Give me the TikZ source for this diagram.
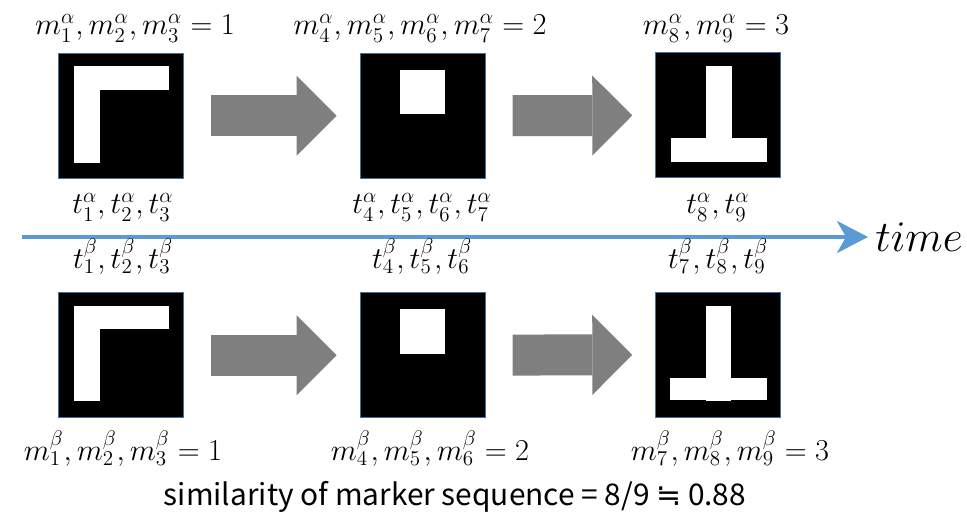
\documentclass[tikz,border=0pt]{standalone}
\usepackage{fontspec}
\usepackage{tikz}
\usetikzlibrary{arrows.meta,calc}
\newfontfamily\jpfont{Noto Sans CJK JP}
\newfontfamily\symfont{DejaVu Sans}
\definecolor{markerline}{RGB}{65,113,156}
\definecolor{stepgray}{RGB}{127,127,127}
\definecolor{timeblue}{RGB}{91,155,213}

\begin{document}
\begin{tikzpicture}[x=0.02cm, y=-0.02cm,
    marker/.style={rectangle, draw=markerline, line width=0.6pt, fill=black,
        minimum size=2.5cm, inner sep=0pt},
    lbl/.style={anchor=base, inner sep=0pt, font=\fontsize{18.5}{20}\selectfont},
    steparr/.style={-{Triangle[length=0.8cm, width=1.6cm, line width=0pt]},
        line width=0.82cm, stepgray, shorten <=0.54cm, shorten >=0.46cm},
    timearr/.style={-{Stealth[length=0.62cm, width=0.64cm, inset=0.18cm]},
        line width=0.08cm, timeblue}
]
    \useasboundingbox (0,0) rectangle (967,517);

    % sequence alpha (top row)
    \node[marker] (a1) at (121.2,115.8) {};
    \node[marker] (a2) at (422.6,115.8) {};
    \node[marker] (a3) at (718.3,115.3) {};
    \fill[white] ($(a1.north west)+(16,13.5)$) rectangle ++(25.7,96.5);
    \fill[white] ($(a1.north west)+(16,13.5)$) rectangle ++(95,24);
    \fill[white] ($(a2.north west)+(40,17.5)$) rectangle ++(45.7,44);
    \fill[white] ($(a3.north west)+(50.4,14)$) rectangle ++(26,72);
    \fill[white] ($(a3.north west)+(15.4,85.7)$) rectangle ++(96,23.7);
    \draw[steparr] (a1) -- (a2);
    \draw[steparr] (a2) -- (a3);

    \node[lbl] (ma1) at (135,35) {$m_1^\alpha, m_2^\alpha, m_3^\alpha = 1$};
    \node[lbl] (ma2) at (420,35) {$m_4^\alpha, m_5^\alpha, m_6^\alpha, m_7^\alpha = 2$};
    \node[lbl] (ma3) at (716,35) {$m_8^\alpha, m_9^\alpha = 3$};
    \node[lbl] (ta1) at (123,214) {$t_1^\alpha, t_2^\alpha, t_3^\alpha$};
    \node[lbl] (ta2) at (422,214) {$t_4^\alpha, t_5^\alpha, t_6^\alpha, t_7^\alpha$};
    \node[lbl] (ta3) at (718,214) {$t_8^\alpha, t_9^\alpha$};

    % time axis
    \coordinate (t0) at (22,237);
    \node[anchor=west, inner xsep=0.14cm, inner ysep=0pt,
        font=\fontsize{25}{28}\selectfont] (time) at (868,237) {$time$};
    \draw[timearr] (t0) -- (time.west);

    % sequence beta (bottom row)
    \node[marker] (b1) at (121.2,355.2) {};
    \node[marker] (b2) at (422.6,355.2) {};
    \node[marker] (b3) at (718.3,354.7) {};
    \fill[white] ($(b1.north west)+(16,14)$) rectangle ++(25.7,95);
    \fill[white] ($(b1.north west)+(16,14)$) rectangle ++(95,22.6);
    \fill[white] ($(b2.north west)+(40,17.3)$) rectangle ++(45.7,44.3);
    \fill[white] ($(b3.north west)+(50.4,14.3)$) rectangle ++(25.3,95);
    \fill[white] ($(b3.north west)+(14.7,86)$) rectangle ++(96.7,22.3);
    \draw[steparr] (b1) -- (b2);
    \draw[steparr] (b2) -- (b3);

    \node[lbl] (tb1) at (123,268) {$t_1^\beta, t_2^\beta, t_3^\beta$};
    \node[lbl] (tb2) at (422,268) {$t_4^\beta, t_5^\beta, t_6^\beta$};
    \node[lbl] (tb3) at (718,268) {$t_7^\beta, t_8^\beta, t_9^\beta$};
    \node[lbl] (mb1) at (123,460) {$m_1^\beta, m_2^\beta, m_3^\beta = 1$};
    \node[lbl] (mb2) at (430,460) {$m_4^\beta, m_5^\beta, m_6^\beta = 2$};
    \node[lbl] (mb3) at (730,460) {$m_7^\beta, m_8^\beta, m_9^\beta = 3$};

    \node[anchor=base, font=\jpfont\fontsize{17}{20}\selectfont] (sim) at (455,505)
        {similarity of marker sequence = 8/9 {\symfont ≒} 0.88};
\end{tikzpicture}
\end{document}
